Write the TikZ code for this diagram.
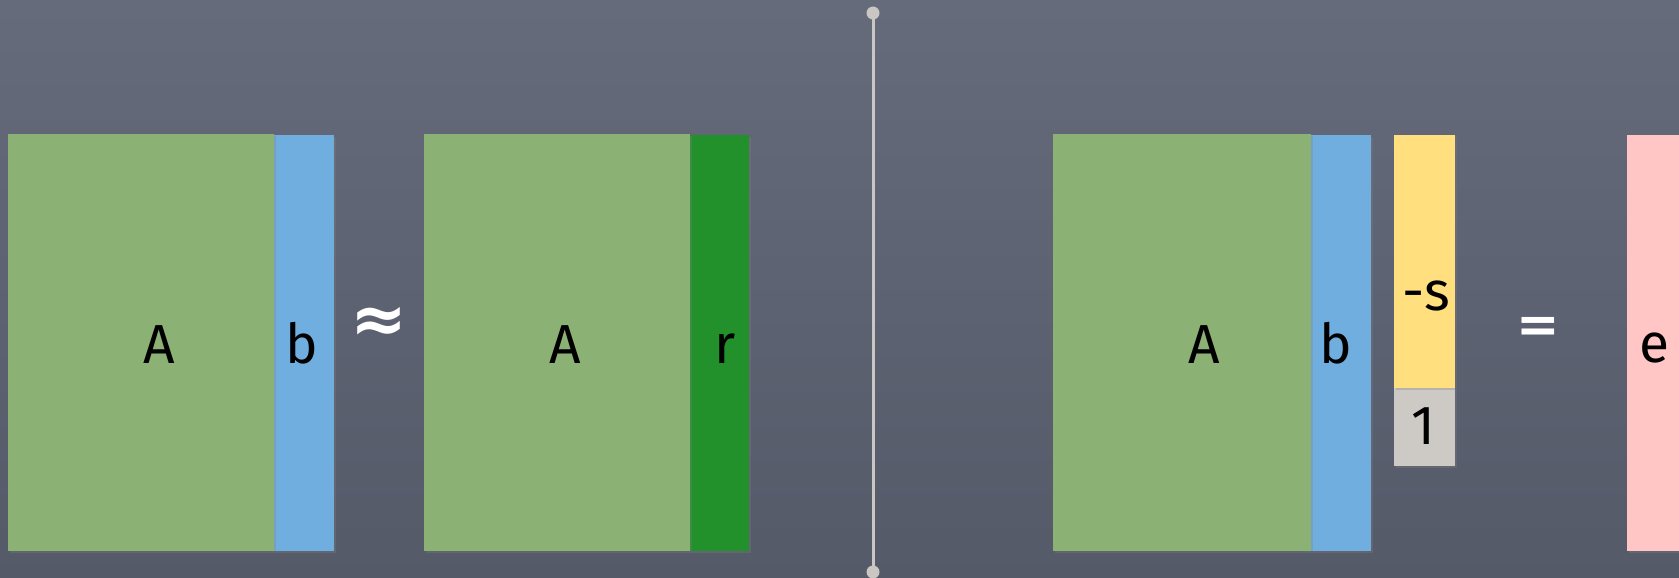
\documentclass[tikz,border=0pt]{standalone}
\usepackage{fontspec}
\setmainfont{Fira Sans}
\newfontfamily\symfont{DejaVu Sans}
\usetikzlibrary{shadows}
\definecolor{bgtop}{HTML}{656B7B}
\definecolor{bgbot}{HTML}{555A69}
\definecolor{mgreen}{HTML}{8BB274}
\definecolor{mblue}{HTML}{70AEDF}
\definecolor{dgreen}{HTML}{22912B}
\definecolor{myellow}{HTML}{FFDF7E}
\definecolor{mgray}{HTML}{CDCAC5}
\definecolor{mpink}{HTML}{FFC6C5}
\definecolor{divcol}{HTML}{CAC7C2}
\begin{document}
\begin{tikzpicture}[x=1pt,y=-1pt,
  blk/.style={draw=none, inner sep=0pt, outer sep=0pt, anchor=north west,
    drop shadow={shadow xshift=2pt, shadow yshift=-2pt, opacity=0.3}},
  lbl/.style={font=\fontsize{55}{60}\selectfont, text=black, anchor=base, inner sep=0pt},
  op/.style={text=white, inner sep=0pt},
  dot/.style={circle, fill=divcol, minimum size=13pt, inner sep=0pt},
  divider/.style={draw=divcol, line width=3pt}]
\useasboundingbox (0,0) rectangle (1679,578);
\fill[top color=bgtop, bottom color=bgbot] (0,0) rectangle (1679,578);
% divider
\node[dot] (d1) at (873,13) {};
\node[dot] (d2) at (873,572) {};
\draw[divider] (d1.center) -- (d2.center);
% left group
\node[blk, fill=mblue, minimum width=60pt, minimum height=416pt] (b1) at (274,135) {};
\node[blk, fill=mgreen, minimum width=266pt, minimum height=417pt] (A1) at (8,134) {};
\node[lbl] (tA1) at (159,363) {A};
\node[lbl] (tb1) at (302,363) {b};
\node[op, font=\symfont\bfseries\fontsize{68}{68}\selectfont] (approx) at (379,325) {≈};
\node[blk, fill=dgreen, minimum width=59pt, minimum height=416pt] (r2) at (690,135) {};
\node[blk, fill=mgreen, minimum width=266pt, minimum height=417pt] (A2) at (424,134) {};
\node[lbl] (tA2) at (565,363) {A};
\node[lbl] (tr2) at (725,363) {r};
% right group
\node[blk, fill=mblue, minimum width=60pt, minimum height=416pt] (b3) at (1311,135) {};
\node[blk, fill=mgreen, minimum width=258pt, minimum height=417pt] (A3) at (1053,134) {};
\node[lbl] (tA3) at (1204,363) {A};
\node[lbl] (tb3) at (1336,363) {b};
\node[blk, fill=mgray, minimum width=61pt, minimum height=78pt] (one) at (1394,388) {};
\node[blk, fill=myellow, minimum width=61pt, minimum height=253pt] (s) at (1394,135) {};
\node[lbl] (ts) at (1426,310) {-s};
\node[lbl] (tone) at (1423,444) {1};
\node[op, font=\symfont\bfseries\fontsize{52}{52}\selectfont] (eq) at (1538,330) {=};
\node[blk, fill=mpink, minimum width=60pt, minimum height=416pt] (e) at (1627,135) {};
\node[lbl] (te) at (1654,362) {e};
\end{tikzpicture}
\end{document}
